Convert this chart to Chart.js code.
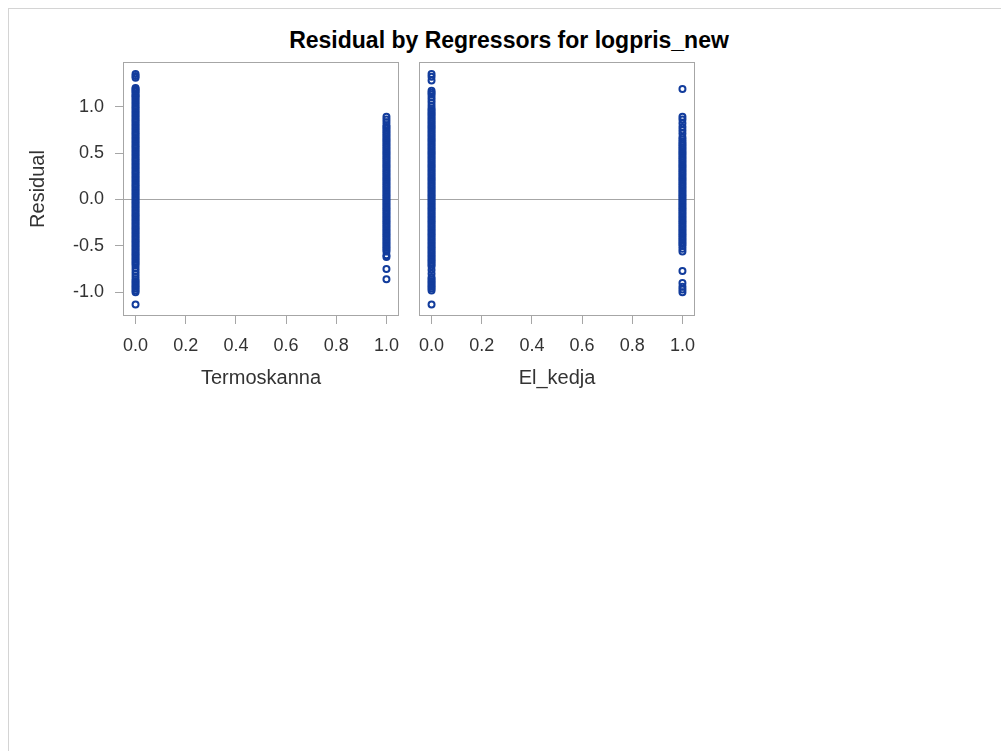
<!DOCTYPE html>
<html>
<head>
<meta charset="utf-8">
<title>Residual by Regressors for logpris_new</title>
<script src="https://cdn.jsdelivr.net/npm/chart.js@4/dist/chart.umd.min.js"></script>
<style>
    body { margin: 0; background: #fff; font-family: 'Liberation Sans', Arial, sans-serif; }
    #frame { position: absolute; left: 8px; top: 8px; width: 1100px; height: 900px; border: 1px solid #d4d4d4; }
    #title { position: absolute; left: 0; width: 1018px; top: 27px; text-align: center; font-weight: bold; font-size: 23px; color: #000; }
    .panel { position: absolute; top: 0; }
</style>
</head>
<body>
<div id="frame"></div>
<div id="title">Residual by Regressors for logpris_new</div>
<div class="panel" style="left:0; width:405px; height:400px;"><canvas id="termoChart"></canvas></div>
<div class="panel" style="left:400px; width:301px; height:400px;"><canvas id="elChart"></canvas></div>

<script>
// Regressor values (x) and residuals
const regressorLevels = [0, 1];

// Termoskanna = 0
const termoResid0 = [1.35, 1.33, 1.31, 1.20, 1.19, 1.17, 1.16, 1.14, 1.12, 1.11, 1.09, 1.07, 1.05, 1.03,
    1.01, 0.99, 0.97, 0.95, 0.93, 0.91, 0.89, 0.87, 0.85, 0.83, 0.81, 0.79, 0.77, 0.75, 0.73, 0.71,
    0.69, 0.67, 0.65, 0.63, 0.61, 0.59, 0.57, 0.55, 0.53, 0.51, 0.49, 0.47, 0.45, 0.43, 0.41, 0.39,
    0.37, 0.35, 0.33, 0.31, 0.29, 0.27, 0.25, 0.23, 0.21, 0.19, 0.17, 0.15, 0.13, 0.11, 0.09, 0.07,
    0.05, 0.03, 0.01, -0.01, -0.03, -0.05, -0.07, -0.09, -0.11, -0.13, -0.15, -0.17, -0.19, -0.21,
    -0.23, -0.25, -0.27, -0.29, -0.31, -0.33, -0.35, -0.37, -0.39, -0.41, -0.43, -0.45, -0.47, -0.49,
    -0.51, -0.53, -0.55, -0.57, -0.59, -0.61, -0.63, -0.65, -0.67, -0.69, -0.71, -0.74, -0.77, -0.80,
    -0.83, -0.86, -0.88, -0.90, -0.92, -0.94, -0.96, -0.98, -1.00, -1.13];
// Termoskanna = 1
const termoResid1 = [0.89, 0.86, 0.83, 0.80, 0.78, 0.76, 0.74, 0.72, 0.70, 0.68, 0.66, 0.64, 0.62,
    0.60, 0.58, 0.56, 0.54, 0.52, 0.50, 0.48, 0.46, 0.44, 0.42, 0.40, 0.38, 0.36, 0.34, 0.32, 0.30,
    0.28, 0.26, 0.24, 0.22, 0.20, 0.18, 0.16, 0.14, 0.12, 0.10, 0.08, 0.06, 0.04, 0.02, 0.00, -0.02,
    -0.04, -0.06, -0.08, -0.10, -0.12, -0.14, -0.16, -0.18, -0.20, -0.22, -0.24, -0.26, -0.28, -0.30,
    -0.32, -0.34, -0.36, -0.38, -0.40, -0.42, -0.44, -0.46, -0.48, -0.50, -0.52, -0.54, -0.56, -0.60,
    -0.62, -0.75, -0.86];
// El_kedja = 0
const elResid0 = [1.35, 1.32, 1.28, 1.17, 1.15, 1.13, 1.10, 1.07, 1.04, 1.01, 0.98, 0.96, 0.94,
    0.92, 0.90, 0.88, 0.86, 0.84, 0.82, 0.80, 0.78, 0.76, 0.74, 0.72, 0.70, 0.68, 0.66, 0.64, 0.62,
    0.60, 0.58, 0.56, 0.54, 0.52, 0.50, 0.48, 0.46, 0.44, 0.42, 0.40, 0.38, 0.36, 0.34, 0.32, 0.30,
    0.28, 0.26, 0.24, 0.22, 0.20, 0.18, 0.16, 0.14, 0.12, 0.10, 0.08, 0.06, 0.04, 0.02, 0.00, -0.02,
    -0.04, -0.06, -0.08, -0.10, -0.12, -0.14, -0.16, -0.18, -0.20, -0.22, -0.24, -0.26, -0.28, -0.30,
    -0.32, -0.34, -0.36, -0.38, -0.40, -0.42, -0.44, -0.46, -0.48, -0.50, -0.52, -0.54, -0.56, -0.58,
    -0.60, -0.62, -0.64, -0.66, -0.68, -0.70, -0.72, -0.76, -0.80, -0.84, -0.86, -0.88, -0.90, -0.92,
    -0.94, -0.96, -0.98, -1.13];
// El_kedja = 1
const elResid1 = [1.19, 0.89, 0.86, 0.82, 0.78, 0.745, 0.71, 0.67, 0.645, 0.62, 0.60, 0.58, 0.56,
    0.54, 0.52, 0.50, 0.48, 0.46, 0.44, 0.42, 0.40, 0.38, 0.36, 0.34, 0.32, 0.30, 0.28, 0.26, 0.24,
    0.22, 0.20, 0.18, 0.16, 0.14, 0.12, 0.10, 0.08, 0.06, 0.04, 0.02, 0.00, -0.02, -0.04, -0.06, -0.08,
    -0.10, -0.12, -0.14, -0.16, -0.18, -0.20, -0.22, -0.24, -0.26, -0.28, -0.30, -0.32, -0.34, -0.36,
    -0.38, -0.40, -0.42, -0.44, -0.46, -0.48, -0.50, -0.53, -0.56, -0.77, -0.90, -0.94, -0.97, -1.00];

// Axis ticks
const xTickVals = [0, 0.2, 0.4, 0.6, 0.8, 1.0];
const yTickVals = [-1.0, -0.5, 0, 0.5, 1.0];

document.addEventListener('DOMContentLoaded', function () {
    const markerColor = '#123c9c';
    const axisColor = '#a6a6a6';
    const textColor = '#333';
    const fontFamily = "'Liberation Sans', Arial, sans-serif";

    function toPoints(xVal, values) {
        return values.map(function (v) { return { x: xVal, y: v }; });
    }

    function makeDataset(col0, col1) {
        return {
            datasets: [{
                label: 'Residual',
                data: toPoints(regressorLevels[0], col0).concat(toPoints(regressorLevels[1], col1)),
                pointStyle: 'circle',
                pointRadius: 3,
                pointBorderWidth: 2,
                borderColor: markerColor,
                backgroundColor: 'rgba(0,0,0,0)'
            }]
        };
    }

    // Box around each panel
    const boxPlugin = {
        id: 'panelBox',
        afterDraw: function (chart) {
            const a = chart.chartArea;
            const ctx = chart.ctx;
            ctx.save();
            ctx.strokeStyle = axisColor;
            ctx.lineWidth = 1;
            ctx.strokeRect(Math.round(a.left) + 0.5, Math.round(a.top) + 0.5,
                Math.round(a.right - a.left) - 1, Math.round(a.bottom - a.top) - 1);
            ctx.restore();
        }
    };

    function makeOptions(xTitle, showY) {
        return {
            responsive: true,
            maintainAspectRatio: false,
            animation: false,
            layout: { padding: { top: 62, right: 0, bottom: 0, left: 0 } },
            scales: {
                x: {
                    type: 'linear',
                    min: -0.05,
                    max: 1.05,
                    afterBuildTicks: function (scale) {
                        scale.ticks = xTickVals.map(function (v) { return { value: v }; });
                    },
                    afterFit: function (scale) {
                        scale.height = 84;
                        scale.paddingLeft = 0;
                        scale.paddingRight = 0;
                    },
                    border: { display: false },
                    grid: { drawOnChartArea: false, tickLength: 8, tickColor: axisColor },
                    ticks: {
                        padding: 11,
                        color: textColor,
                        font: { family: fontFamily, size: 18 },
                        maxRotation: 0,
                        callback: function (value) { return value.toFixed(1); }
                    },
                    title: {
                        display: true,
                        text: xTitle,
                        color: textColor,
                        font: { family: fontFamily, size: 20 },
                        padding: { top: 0, bottom: 10 }
                    }
                },
                y: {
                    type: 'linear',
                    min: -1.255,
                    max: 1.48,
                    afterBuildTicks: function (scale) {
                        scale.ticks = yTickVals.map(function (v) { return { value: v }; });
                    },
                    afterFit: function (scale) {
                        scale.width = showY ? 123 : 19;
                        scale.paddingTop = 0;
                        scale.paddingBottom = 0;
                    },
                    border: { display: false },
                    grid: {
                        // only the zero reference line inside the panel
                        color: function (ctx) { return ctx.tick && ctx.tick.value === 0 ? axisColor : 'rgba(0,0,0,0)'; },
                        drawTicks: showY,
                        tickLength: 8,
                        tickColor: axisColor
                    },
                    ticks: {
                        display: showY,
                        padding: 11,
                        color: textColor,
                        font: { family: fontFamily, size: 18 },
                        callback: function (value) { return value.toFixed(1); }
                    },
                    title: {
                        display: showY,
                        text: 'Residual',
                        color: textColor,
                        font: { family: fontFamily, size: 20 },
                        padding: { top: 26, bottom: 0 }
                    }
                }
            },
            plugins: {
                legend: { display: false },
                tooltip: { enabled: false }
            }
        };
    }

    // Panel: Termoskanna
    new Chart(document.getElementById('termoChart').getContext('2d'), {
        type: 'scatter',
        data: makeDataset(termoResid0, termoResid1),
        options: makeOptions('Termoskanna', true),
        plugins: [boxPlugin]
    });

    // Panel: El_kedja
    new Chart(document.getElementById('elChart').getContext('2d'), {
        type: 'scatter',
        data: makeDataset(elResid0, elResid1),
        options: makeOptions('El_kedja', false),
        plugins: [boxPlugin]
    });
});
</script>
</body>
</html>
